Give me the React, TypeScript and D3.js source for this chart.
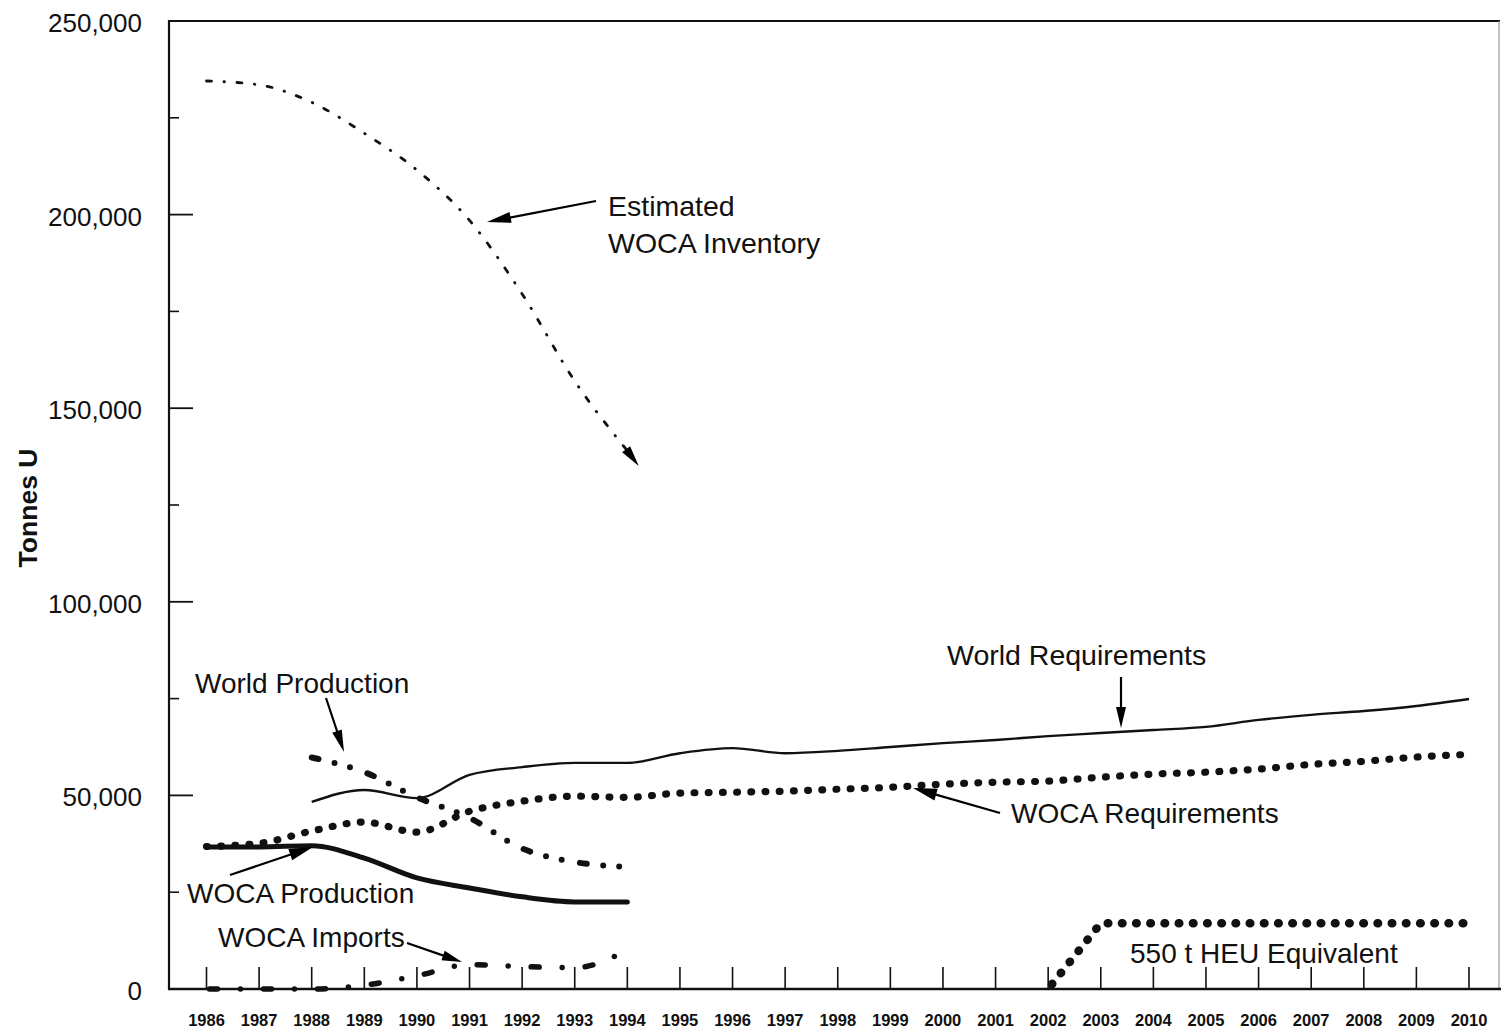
import React from "react";
import * as d3 from "d3";

// Tick labels
const yearTicks = [1986, 1987, 1988, 1989, 1990, 1991, 1992, 1993, 1994, 1995, 1996, 1997, 1998, 1999, 2000, 2001, 2002, 2003, 2004, 2005, 2006, 2007, 2008, 2009, 2010];
const valueTicks = [0, 50000, 100000, 150000, 200000, 250000];
const minorTicks = [25000, 75000, 125000, 175000, 225000];

// Series (tonnes U)
const inventoryYears = [1986, 1987, 1988, 1989, 1990, 1991, 1992, 1993, 1994];
const inventory = [234500, 233500, 229000, 221000, 211500, 198500, 179500, 157000, 139000];

const worldProdYears = [1988, 1989, 1990, 1991, 1992, 1993, 1994];
const worldProduction = [59800, 56000, 49500, 44200, 36300, 32800, 31500];

const wocaProdYears = [1986, 1987, 1988, 1989, 1990, 1991, 1992, 1993, 1994];
const wocaProduction = [36700, 36700, 37000, 33800, 28700, 26100, 23800, 22500, 22500];

const importYears = [1986, 1987, 1988, 1989, 1990, 1991, 1992, 1993, 1994];
const wocaImports = [0, 0, 0, 1000, 3400, 6300, 5800, 5500, 10000];

const worldReqYears = [1988, 1989, 1990, 1991, 1992, 1993, 1994, 1995, 1996, 1997, 1998, 1999, 2000, 2001, 2002, 2003, 2004, 2005, 2006, 2007, 2008, 2009, 2010];
const worldRequirements = [48300, 51400, 49300, 55300, 57300, 58400, 58400, 60900, 62200, 60900, 61500, 62500, 63500, 64300, 65300, 66100, 66900, 67700, 69500, 70800, 71800, 73100, 74900];

const wocaReqYears = [1986, 1987, 1988, 1989, 1990, 1991, 1992, 1993, 1994, 1995, 1996, 1997, 1998, 1999, 2000, 2001, 2002, 2003, 2004, 2005, 2006, 2007, 2008, 2009, 2010];
const wocaRequirements = [36800, 37600, 40800, 43100, 40500, 45900, 48500, 49800, 49500, 50600, 50800, 51100, 51600, 52100, 52900, 53400, 53700, 54700, 55500, 56000, 56800, 58000, 58800, 59900, 60600];

const heuYears = [2002, 2003, 2004, 2005, 2006, 2007, 2008, 2009, 2010];
const heuEquivalent = [0, 17000, 17000, 17000, 17000, 17000, 17000, 17000, 17000];

const W = 1501;
const H = 1035;
const FONT = "'Liberation Sans', Arial, Helvetica, sans-serif";

const x = d3.scaleLinear().domain([1986, 2010]).range([206.5, 1469]);
const y = d3.scaleLinear().domain([0, 250000]).range([989, 21]);

const pairs = (xs: number[], vs: number[]) => xs.map((yr, i) => [yr, vs[i]] as [number, number]);

const smooth = d3
  .line<[number, number]>()
  .x((d) => x(d[0]))
  .y((d) => y(d[1]))
  .curve(d3.curveMonotoneX);

const straight = d3
  .line<[number, number]>()
  .x((d) => x(d[0]))
  .y((d) => y(d[1]));

type ArrowProps = { x1: number; y1: number; x2: number; y2: number; len?: number; half?: number; w?: number };

function Arrow({ x1, y1, x2, y2, len = 20, half = 5, w = 2.2 }: ArrowProps) {
  const dx = x2 - x1;
  const dy = y2 - y1;
  const d = Math.hypot(dx, dy);
  const ux = dx / d;
  const uy = dy / d;
  const bx = x2 - ux * len;
  const by = y2 - uy * len;
  const px = -uy * half;
  const py = ux * half;
  return (
    <g>
      <line x1={x1} y1={y1} x2={bx + ux * 2} y2={by + uy * 2} stroke="#000" strokeWidth={w} />
      <polygon points={`${x2},${y2} ${bx + px},${by + py} ${bx - px},${by - py}`} fill="#000" />
    </g>
  );
}

export default function App() {
  const inv = pairs(inventoryYears, inventory);
  const n = inv.length;
  const ex = x(inv[n - 1][0]);
  const ey = y(inv[n - 1][1]);
  const px0 = x(inv[n - 2][0]) + (ex - x(inv[n - 2][0])) * 0.6;
  const py0 = y(inv[n - 2][1]) + (ey - y(inv[n - 2][1])) * 0.6;
  const dl = Math.hypot(ex - px0, ey - py0);
  const tipX = ex + ((ex - px0) / dl) * 19;
  const tipY = ey + ((ey - py0) / dl) * 19;

  const labelStyle = { fontFamily: FONT, fill: "#111" } as React.CSSProperties;

  return (
    <svg
      width={W}
      height={H}
      viewBox={`0 0 ${W} ${H}`}
      style={{ position: "absolute", left: 0, top: 0, display: "block", background: "#fff" }}
    >
      <rect x={0} y={0} width={W} height={H} fill="#fff" />

      {/* frame */}
      <line x1={169} y1={21} x2={1500} y2={21} stroke="#111" strokeWidth={2} />
      <line x1={1499} y1={21} x2={1499} y2={989} stroke="#999" strokeWidth={1.2} />
      <line x1={169} y1={20} x2={169} y2={990} stroke="#111" strokeWidth={2.2} />
      <line x1={168} y1={989} x2={1501} y2={989} stroke="#111" strokeWidth={2.6} />

      {/* y axis ticks */}
      {valueTicks.map((v) => (
        <g key={"yt" + v}>
          {v > 0 && v < 250000 && (
            <line x1={169} x2={193} y1={y(v)} y2={y(v)} stroke="#111" strokeWidth={1.8} />
          )}
          <text x={142} y={y(v) + 11} textAnchor="end" fontSize={26} style={labelStyle}>
            {d3.format(",")(v)}
          </text>
        </g>
      ))}
      {minorTicks.map((v) => (
        <line key={"mt" + v} x1={169} x2={179} y1={y(v)} y2={y(v)} stroke="#111" strokeWidth={1.6} />
      ))}

      {/* x axis ticks */}
      {yearTicks.map((yr) => (
        <g key={"xt" + yr}>
          <line x1={x(yr)} x2={x(yr)} y1={989} y2={967} stroke="#111" strokeWidth={1.6} />
          <text x={x(yr)} y={1026} textAnchor="middle" fontSize={16.5} fontWeight="bold" style={labelStyle}>
            {yr}
          </text>
        </g>
      ))}

      <text
        transform="translate(37,508) rotate(-90)"
        textAnchor="middle"
        fontSize={26.5}
        fontWeight="bold"
        style={labelStyle}
      >
        Tonnes U
      </text>

      {/* Estimated WOCA inventory */}
      <path
        d={smooth(inv) || ""}
        fill="none"
        stroke="#111"
        strokeWidth={2.8}
        strokeDasharray="5 12.5 0.5 12.5"
        strokeLinecap="round"
      />
      <Arrow x1={ex} y1={ey} x2={tipX} y2={tipY} len={21} half={5} w={1.6} />

      {/* World requirements */}
      <path d={smooth(pairs(worldReqYears, worldRequirements)) || ""} fill="none" stroke="#111" strokeWidth={2.4} />

      {/* WOCA requirements */}
      <path
        d={smooth(pairs(wocaReqYears, wocaRequirements)) || ""}
        fill="none"
        stroke="#111"
        strokeWidth={7.2}
        strokeDasharray="0.8 13.4"
        strokeLinecap="round"
      />

      {/* WOCA production */}
      <path
        d={smooth(pairs(wocaProdYears, wocaProduction)) || ""}
        fill="none"
        stroke="#111"
        strokeWidth={5}
        strokeLinecap="round"
      />

      {/* World production */}
      <path
        d={smooth(pairs(worldProdYears, worldProduction)) || ""}
        fill="none"
        stroke="#111"
        strokeWidth={6}
        strokeDasharray="7 16.5 0 16 0 18.5"
        strokeLinecap="round"
      />

      {/* WOCA imports */}
      <path
        d={smooth(pairs(importYears, wocaImports)) || ""}
        fill="none"
        stroke="#111"
        strokeWidth={5.5}
        strokeDasharray="8 23 0 23"
        strokeDashoffset={-3}
        strokeLinecap="round"
      />

      {/* HEU equivalent */}
      <path
        d={straight(pairs(heuYears, heuEquivalent)) || ""}
        fill="none"
        stroke="#111"
        strokeWidth={8.5}
        strokeDasharray="0.6 13.6"
        strokeDashoffset={-6}
        strokeLinecap="round"
      />

      {/* annotations */}
      <text x={608} y={216} fontSize={28.5} style={labelStyle}>Estimated</text>
      <text x={608} y={253} fontSize={28.5} style={labelStyle}>WOCA Inventory</text>
      <Arrow x1={596} y1={201} x2={487} y2={222} len={24} half={5.5} />

      <text x={195} y={693} fontSize={28} style={labelStyle}>World Production</text>
      <Arrow x1={326} y1={698} x2={344} y2={752} len={22} half={5} />

      <text x={947} y={665} fontSize={28.5} style={labelStyle}>World Requirements</text>
      <Arrow x1={1121} y1={677} x2={1121} y2={728} len={21} half={5} />

      <text x={1011} y={823} fontSize={28} style={labelStyle}>WOCA Requirements</text>
      <Arrow x1={1000} y1={813} x2={913} y2={788} len={24} half={6} />

      <text x={187} y={903} fontSize={28} style={labelStyle}>WOCA Production</text>
      <Arrow x1={230} y1={875} x2={313} y2={847} len={24} half={6} />

      <text x={218} y={947} fontSize={28} style={labelStyle}>WOCA Imports</text>
      <Arrow x1={407} y1={943} x2={462} y2={962} len={20} half={5} />

      <text x={1130} y={963} fontSize={28} style={labelStyle}>550 t HEU Equivalent</text>
    </svg>
  );
}
